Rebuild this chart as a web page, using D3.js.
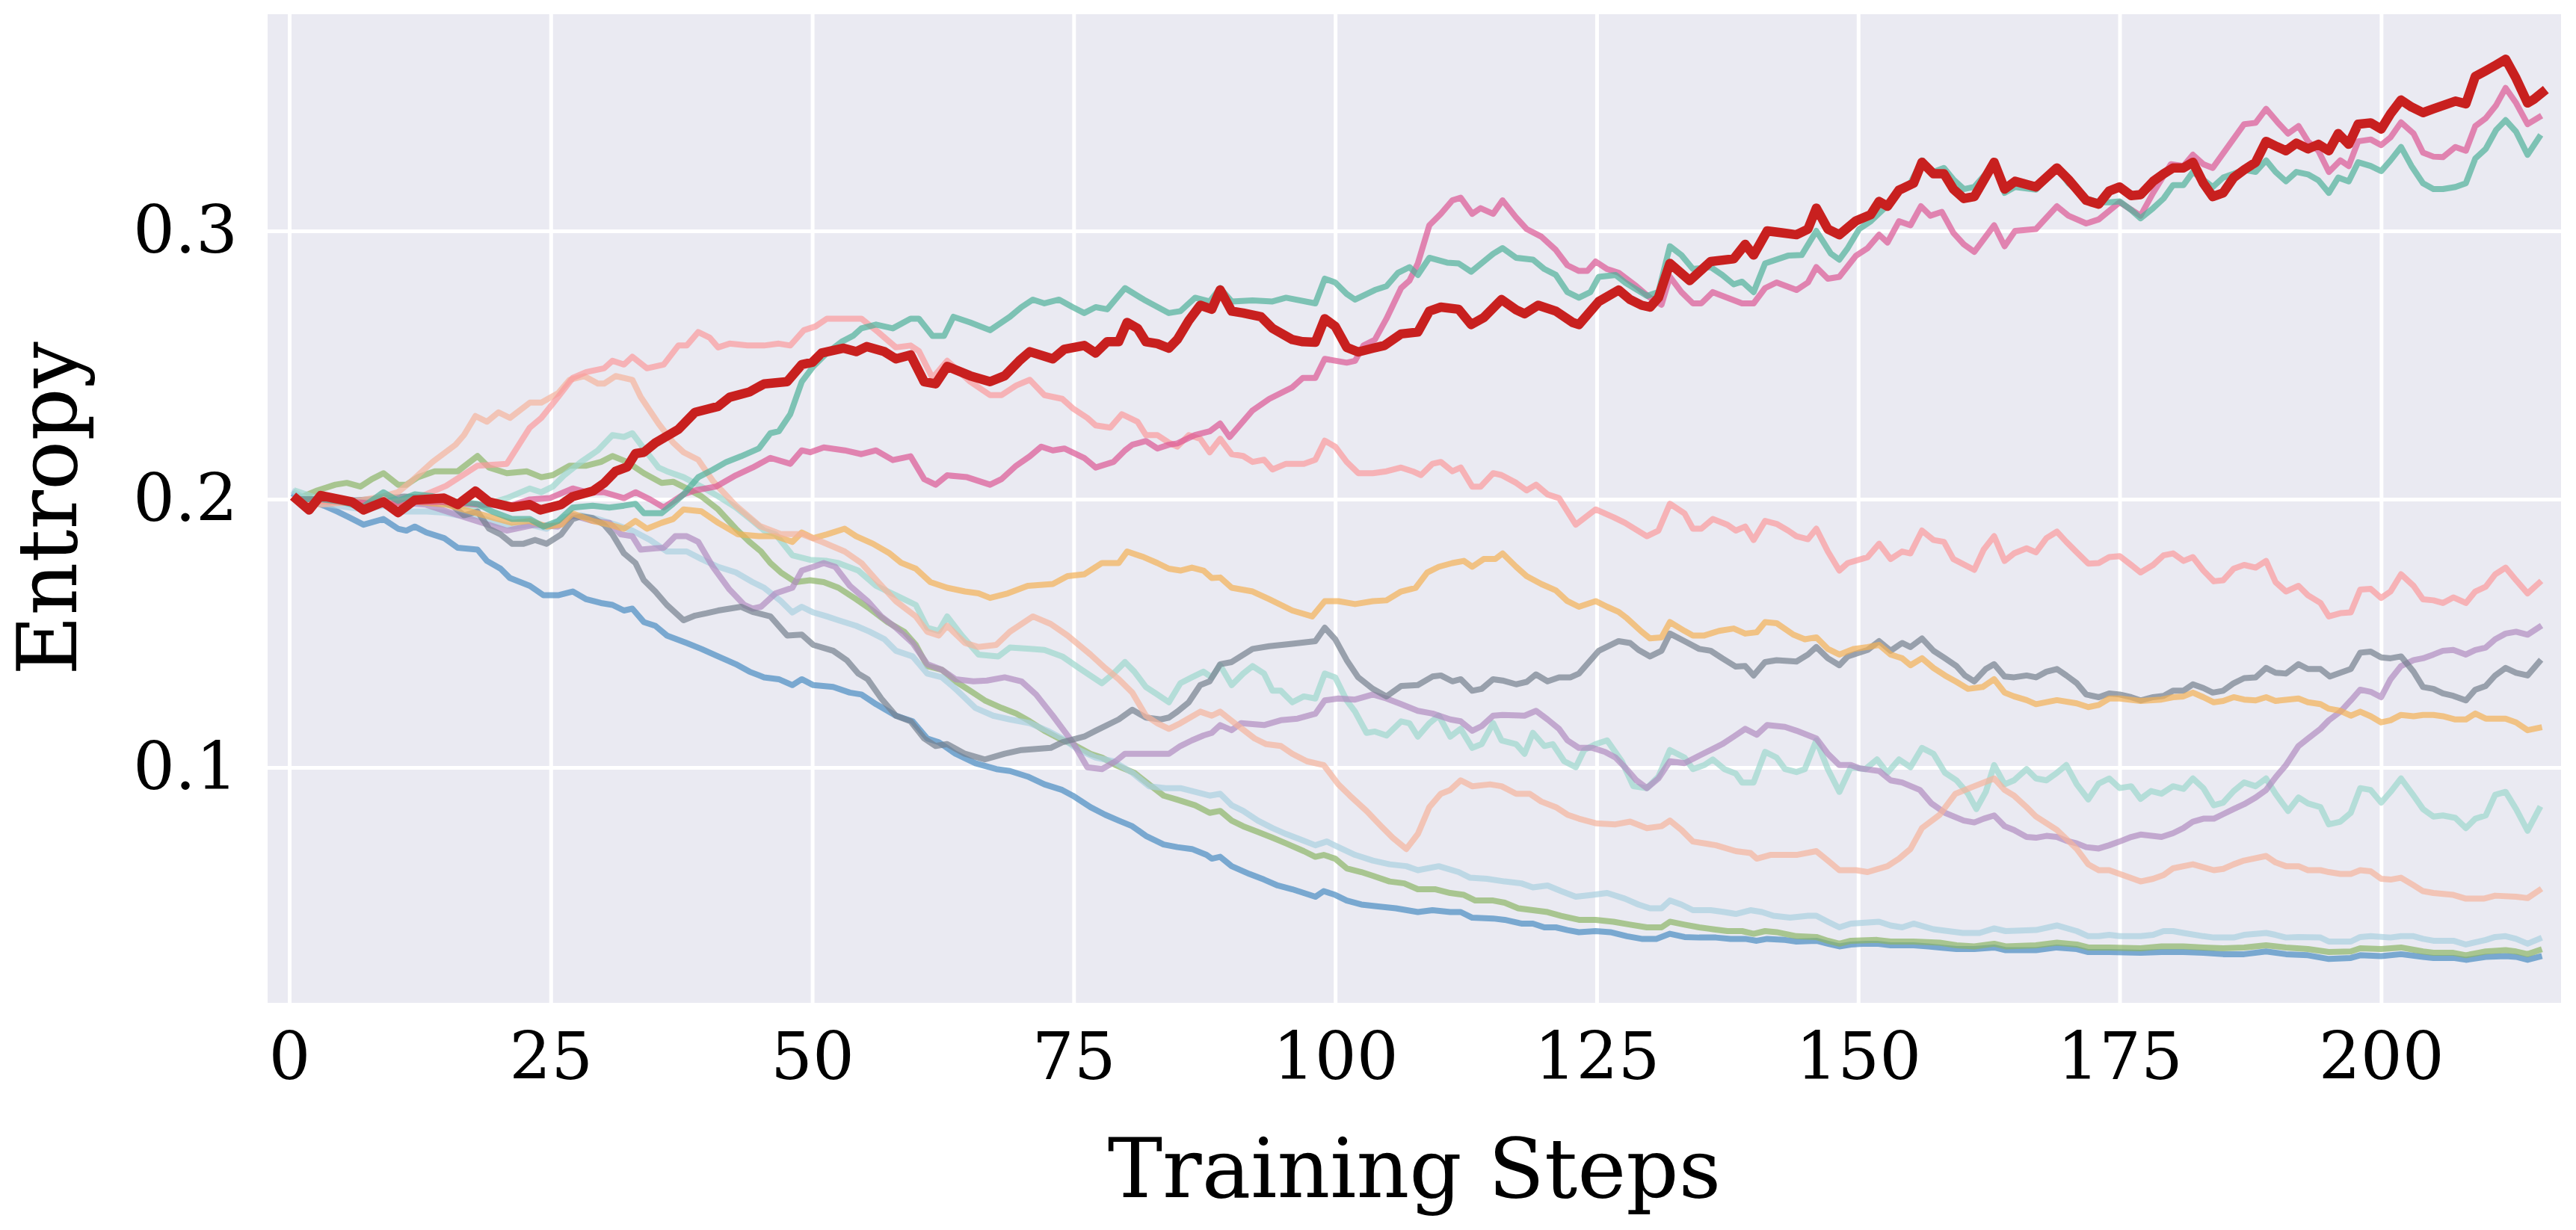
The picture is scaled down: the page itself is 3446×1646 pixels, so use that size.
<!DOCTYPE html>
<html>
<head>
<meta charset="utf-8">
<script src="https://cdn.jsdelivr.net/npm/d3@7"></script>
<style>
  html, body { margin: 0; padding: 0; background: #ffffff; }
  text { font-family: "DejaVu Serif", serif; fill: #000; }
</style>
</head>
<body>
<div id="chart"></div>
<script>
// Entropy of each run during training as [step, entropy]
var xTicks = [0, 25, 50, 75, 100, 125, 150, 175, 200];
var yTicks = [0.1, 0.2, 0.3];

var red = [[0.7,.200],[1.9,.196],[3,.2014],[6,.199],[7.1,.196],[9,.199],[10.4,.195],[12,.1997],[14.8,.2004],[16.1,.198],[17.8,.203],[19.1,.199],[21.3,.197],[23,.198],[24,.196],[26,.198],[27.1,.201],[29,.203],[30.1,.206],[31.2,.2104],[32.3,.212],[33.1,.217],[33.9,.2175],[35,.221],[37.2,.226],[38.8,.2324],[40.2,.2338],[41,.2346],[42.1,.238],[44,.24],[45.4,.243],[47.6,.2438],[49,.2502],[50,.251],[50.9,.2545],[53,.2563],[54.2,.255],[55.2,.2569],[56.9,.255],[58,.2523],[59.4,.2538],[60.7,.2438],[61.8,.243],[62.9,.2495],[65.1,.246],[67,.2438],[68.4,.246],[69.8,.2516],[70.8,.255],[73,.2523],[74.1,.2559],[76,.2573],[77.1,.2545],[78.2,.2587],[79.3,.2587],[80.1,.2659],[81.1,.2637],[81.9,.2587],[83,.258],[84.1,.2563],[84.9,.2595],[86,.2666],[87.1,.2723],[88.2,.2708],[89,.278],[90.1,.2701],[91.2,.2694],[92.9,.268],[94,.2637],[95.9,.2595],[96.9,.2587],[98.1,.2585],[99,.2673],[100,.2644],[101.1,.2566],[102.2,.2549],[103.6,.2563],[104.7,.2573],[106.3,.2616],[107.9,.2623],[109,.2701],[110.1,.2716],[111.8,.2708],[113,.2651],[114.2,.2677],[115.9,.2744],[117.3,.2706],[118.1,.2691],[119.4,.2723],[121.1,.2701],[122.7,.2659],[123.3,.2651],[125.2,.2737],[127.1,.278],[128.2,.2744],[129.3,.2723],[130.1,.2716],[130.9,.2751],[132,.2879],[133.9,.2815],[135.9,.2886],[138.1,.2896],[139.2,.295],[140,.291],[141.3,.3],[142.7,.2993],[144.1,.2986],[145.2,.3007],[146,.3085],[147.1,.3007],[148.2,.2986],[149.8,.3038],[151.2,.3061],[152,.311],[152.8,.3092],[153.9,.3152],[155.3,.3178],[156.1,.3256],[157.2,.3213],[158.2,.3213],[159.1,.3156],[160.1,.3121],[161.1,.3128],[163,.3256],[164,.3156],[165,.3185],[167,.3164],[169,.3235],[170.1,.3192],[171.8,.3114],[173,.31],[174,.3149],[175,.3164],[176.1,.3132],[177,.3135],[178.2,.3185],[179.2,.3213],[180.1,.3235],[181.1,.3235],[182,.3256],[183,.3178],[183.9,.3128],[184.9,.3142],[185.9,.3199],[186.9,.3228],[188,.3256],[189,.3334],[189.9,.3317],[190.9,.3299],[191.9,.3327],[193,.3306],[194,.3323],[195,.3299],[195.9,.3363],[196.9,.3323],[197.8,.3398],[199,.3403],[200,.338],[200.9,.3437],[201.9,.3488],[202.9,.3462],[204,.3441],[205,.3455],[207.1,.3484],[208.1,.3474],[209,.3576],[210,.3597],[211,.3619],[211.9,.364],[212.9,.3569],[214,.3477],[214.6,.3491],[215.4,.3516]];

var teal = [[0.7,.2],[3,.2],[5,.199],[7,.197],[9,.2026],[10.4,.1994],[12,.2018],[13.7,.2011],[16.1,.199],[18,.1983],[19.4,.1954],[21.3,.1926],[23,.1926],[24.3,.1898],[25.7,.1919],[27.1,.1969],[29,.1976],[30.6,.1969],[32,.1976],[33.1,.1983],[33.9,.1948],[35.6,.1948],[36.7,.1983],[37.7,.2018],[39.1,.2082],[40.5,.211],[41.8,.2139],[43.2,.216],[44.9,.2189],[46,.2246],[46.8,.2253],[47.9,.2317],[49,.2438],[50.1,.2495],[51.4,.2545],[52.8,.2587],[53.9,.2609],[54.7,.2637],[56.1,.2651],[57.7,.2637],[59.4,.2673],[60.2,.2673],[61.5,.2609],[62.6,.2609],[63.5,.268],[65.1,.2659],[67,.263],[68.9,.268],[70,.2716],[71.1,.2744],[72.2,.273],[73.6,.2744],[74.9,.2716],[76,.2694],[77.1,.2716],[78.2,.2708],[79.9,.2787],[81.7,.2744],[84.1,.2694],[85.2,.2701],[86.6,.2751],[88,.2737],[89,.2787],[90.1,.2737],[92.1,.2741],[94,.2737],[95.3,.2751],[98.1,.273],[99,.2822],[100,.2808],[101.1,.2765],[101.9,.2744],[103.8,.278],[104.9,.2794],[106,.2844],[107.1,.2865],[107.9,.2836],[109,.29],[110.7,.2882],[111.8,.2879],[113,.2848],[115.1,.2915],[116,.2936],[117.3,.29],[118.9,.2893],[120,.2858],[121.1,.2836],[122.2,.2772],[123.3,.2751],[124.4,.2772],[125.2,.2829],[126.8,.2836],[127.7,.2808],[129.8,.2758],[130.9,.2772],[132,.2943],[133.1,.291],[134.2,.2858],[135.9,.2865],[137,.2836],[138.1,.2801],[138.9,.2811],[140,.2772],[141.1,.2879],[143.3,.2908],[144.6,.291],[146,.3],[147.4,.2915],[148.2,.2893],[149,.2936],[150.1,.3007],[151.2,.3036],[152.8,.3095],[153.9,.315],[155,.3178],[156.1,.3263],[157.2,.322],[158.2,.3235],[159.1,.3192],[160.1,.3156],[161.1,.3164],[163,.3249],[164,.3142],[165,.3164],[167,.3154],[169,.3235],[170.1,.3178],[171.8,.3121],[173,.3107],[174,.3107],[175,.311],[176.1,.3078],[177,.3047],[178.2,.3085],[179.2,.3121],[180.1,.3171],[181.1,.3171],[182,.322],[183.2,.3185],[183.9,.3164],[184.9,.3199],[185.9,.3213],[186.9,.3228],[188,.322],[189,.3263],[189.9,.322],[190.9,.3185],[191.9,.322],[193,.3211],[194,.3189],[195,.3142],[195.9,.3199],[196.9,.3185],[197.8,.3256],[199,.3242],[200,.3223],[200.9,.3263],[201.9,.3313],[202.9,.3242],[204,.3178],[205,.3156],[205.9,.3156],[207.1,.3164],[208.1,.3178],[209,.327],[210,.3306],[211,.3377],[211.9,.3413],[212.9,.337],[214,.3284],[215.1,.3349]];

var pink = [[0.7,.2],[3,.2],[6,.199],[9,.198],[12,.199],[15,.199],[18,.198],[21.3,.1978],[23,.1999],[24.9,.2004],[27.1,.204],[28.4,.2026],[30.1,.2026],[32,.2004],[33.1,.2026],[34.5,.1999],[35.8,.1969],[37.7,.2018],[38.8,.2033],[40.8,.2047],[42.7,.2089],[44.3,.2118],[46,.2154],[47.9,.2132],[49,.2182],[49.8,.2175],[51.1,.2193],[53.1,.2182],[54.7,.2168],[56.1,.2182],[57.7,.2146],[59.4,.216],[60.7,.2075],[61.8,.2054],[62.9,.2089],[64.8,.2082],[67,.2054],[68.1,.2075],[69.5,.2125],[70.8,.216],[71.9,.2196],[73,.2182],[74.1,.2189],[76,.2154],[77.1,.2118],[78.8,.2139],[79.9,.2182],[80.6,.2203],[81.9,.2217],[83,.2189],[84.1,.2203],[84.9,.2208],[86.6,.2239],[88,.2253],[89,.2282],[89.9,.2232],[92.1,.2331],[93.7,.2374],[95.9,.2417],[96.9,.2452],[98.1,.2452],[99,.2523],[101.1,.2509],[101.9,.2516],[102.7,.2573],[103.8,.2595],[104.9,.2673],[106.3,.2787],[107.1,.2815],[107.9,.2879],[109,.3021],[110.1,.3064],[111.2,.3114],[112,.3124],[113.1,.3064],[113.9,.3085],[115.1,.3064],[116,.3114],[117.3,.305],[118.3,.3007],[119.7,.2979],[121.1,.2929],[122.2,.2872],[123.3,.2851],[124.1,.2851],[124.9,.2886],[126,.2858],[127.1,.2844],[128.8,.2794],[130.1,.2751],[131.2,.2725],[132,.2829],[133.1,.2772],[134.2,.273],[135,.273],[136.1,.2772],[137.5,.2751],[138.9,.273],[140,.273],[141.1,.2787],[142.2,.2808],[144.1,.278],[145.2,.2808],[146,.2865],[147.1,.2822],[148.2,.2829],[149.8,.2908],[150.9,.2936],[152,.2986],[152.8,.2957],[153.9,.3036],[155,.3021],[156,.3092],[156.9,.3057],[158,.3071],[159.1,.2993],[160.1,.295],[161.1,.2922],[163,.3021],[164,.2943],[165,.3],[167,.3007],[169,.3092],[170.1,.3057],[171.8,.3028],[173,.3043],[175,.3107],[177,.3057],[178.2,.3142],[179.9,.3249],[181.1,.3242],[182,.3284],[183,.3249],[183.9,.3235],[186.9,.3398],[188,.3403],[189,.3455],[190.1,.3405],[191.1,.3363],[192.1,.3391],[193,.3334],[194,.3299],[195,.322],[196.1,.3263],[196.9,.3242],[197.8,.3334],[199,.3341],[200,.332],[200.9,.3349],[201.9,.3405],[203.1,.3363],[204,.3292],[205,.3277],[205.9,.3275],[207.1,.3313],[208.1,.3299],[209,.3391],[210,.342],[211,.3469],[211.9,.3533],[212.9,.3477],[214,.3398],[215.1,.3424]];

var lightPink = [[0.7,.2],[4,.199],[8,.198],[12,.2],[15,.205],[18,.2125],[20.8,.2132],[23,.2267],[24.1,.2303],[25.7,.2381],[27.1,.2452],[28.4,.2474],[30.1,.2488],[30.9,.2516],[32,.2502],[32.8,.2531],[34.2,.2488],[35.8,.2502],[37.2,.2573],[38,.2573],[39.1,.2623],[40.2,.2602],[41,.2566],[42.1,.258],[43.8,.2573],[45.4,.2573],[46.8,.258],[47.9,.2573],[49.2,.263],[50.3,.2644],[51.4,.2673],[53.1,.2673],[54.7,.2673],[56.3,.2623],[58,.2566],[59.4,.2573],[60.2,.2552],[61.5,.2452],[62.9,.2516],[65.1,.2438],[67,.2388],[68.1,.2388],[69.5,.2424],[70.8,.2445],[72.2,.2388],[73.9,.2374],[74.9,.2339],[76.3,.2303],[77.1,.2275],[78.5,.2267],[79.6,.2317],[81.1,.2289],[81.9,.2239],[83,.2239],[84.1,.2211],[84.9,.2196],[86,.2239],[87.1,.2225],[88,.2175],[89,.2225],[90.1,.2168],[91.2,.2161],[92.1,.2139],[93.2,.2147],[94,.2111],[95.3,.2132],[97,.2132],[98.1,.2147],[99,.2218],[100,.2196],[101.1,.2139],[102.2,.2097],[103.6,.2097],[104.9,.2104],[106.3,.2118],[107.4,.2104],[108.2,.209],[109.3,.2132],[110.1,.2139],[111.2,.2104],[112,.2118],[113.1,.2047],[113.9,.2047],[115.1,.2097],[115.9,.209],[117.3,.2061],[118.3,.2033],[119.2,.2054],[120.3,.2018],[121.4,.2004],[123,.1905],[124.9,.1962],[126.6,.1933],[127.7,.1912],[129.8,.1862],[130.9,.1883],[132,.1983],[133.4,.1947],[134.2,.189],[135,.189],[136.1,.1926],[137.5,.1905],[138.3,.1883],[139.2,.1898],[140,.1848],[141.1,.1919],[142.2,.1908],[143.3,.1883],[144.1,.1862],[145.2,.1851],[146,.189],[147.1,.1805],[148.2,.1734],[149,.1762],[150.9,.1784],[152,.1834],[153.1,.1777],[154.2,.1805],[155,.1798],[156.1,.1883],[157.2,.1848],[158.2,.1841],[159.1,.1777],[161.1,.1737],[162,.1812],[163,.1862],[164,.177],[164.9,.1798],[166.1,.1817],[167,.1802],[168,.1855],[169,.1879],[169.9,.1841],[170.9,.1802],[172,.176],[173,.1762],[174,.1784],[175,.1788],[176.1,.1755],[177,.1727],[178.2,.1755],[179.2,.1791],[180.1,.1798],[181.1,.177],[182,.1784],[183,.1734],[184,.1694],[184.9,.1698],[185.9,.1741],[186.9,.1755],[188,.1745],[189,.177],[189.9,.1691],[190.9,.1656],[192.1,.1677],[193,.1642],[194.2,.1613],[195,.1563],[196.1,.1575],[197.1,.1578],[198,.1663],[199,.1666],[200,.1632],[200.9,.1656],[201.9,.172],[203.1,.1677],[204,.1627],[205,.1623],[205.9,.1613],[206.9,.1634],[208.1,.1613],[209,.1656],[210,.1674],[210.9,.172],[211.9,.1745],[212.9,.1698],[214,.1649],[215.1,.1688]];

var peach = [[0.7,.2],[3,.198],[6,.199],[9,.2011],[10.4,.2026],[11.5,.2061],[13.7,.2139],[15.9,.2203],[16.7,.2239],[17.8,.231],[18.9,.2289],[20,.2324],[21.1,.2303],[23,.236],[24.1,.236],[25.7,.2395],[26.8,.2445],[28.2,.2459],[29.5,.2431],[30.1,.2431],[31.2,.2459],[32.8,.2445],[33.6,.2381],[35.3,.2282],[36.7,.2211],[37.7,.2175],[39.1,.2147],[40.5,.2068],[41,.2047],[42.7,.1976],[45,.19],[47,.187],[49,.187],[51,.184],[53.1,.1805],[54.7,.1762],[56.3,.1691],[58,.162],[59.9,.1563],[61,.1506],[62.1,.1492],[62.9,.1528],[64.6,.1464],[65.9,.1449],[67.6,.1457],[68.9,.1506],[71.1,.1563],[72.8,.1535],[74.4,.1492],[76.6,.1421],[78,.1371],[79.3,.1329],[80.6,.1279],[81.9,.1193],[83,.1165],[84.1,.1144],[85.2,.1165],[87.1,.1208],[88.2,.1193],[89,.1208],[90.4,.1165],[92.3,.1108],[93.4,.1087],[94.8,.108],[95.9,.1051],[97.3,.1023],[98.9,.1009],[100.3,.0937],[101.4,.0895],[103,.0838],[104.4,.0781],[105.5,.0738],[106.8,.0696],[107.9,.0752],[109,.0852],[110.1,.0902],[111,.0916],[112,.0952],[113.1,.093],[114.8,.0937],[115.9,.093],[117.3,.0902],[118.6,.0902],[119.7,.0873],[121.1,.0852],[122.2,.0824],[123.3,.0809],[124.9,.0792],[126.8,.0788],[128.2,.0798],[129.8,.0774],[131.2,.0781],[132,.0802],[133.1,.0767],[134.2,.0724],[136.4,.071],[138.3,.0688],[139.7,.0681],[140.3,.066],[141.6,.0674],[144.1,.0674],[146,.0688],[147.1,.0653],[148.2,.0617],[149.8,.0617],[150.9,.061],[152.8,.0632],[153.9,.066],[155,.0696],[156.1,.0774],[157.8,.0824],[159.3,.0902],[161.1,.093],[163,.0959],[164,.0916],[164.9,.0895],[166.1,.0852],[167,.0817],[169,.0767],[170.9,.0696],[172,.0639],[173,.0617],[174,.0617],[175,.0603],[177,.0575],[178.2,.0585],[179.2,.0599],[180.1,.0624],[182,.0639],[184,.0617],[184.9,.0622],[185.9,.0639],[186.9,.0653],[189,.067],[189.9,.0646],[190.9,.0632],[192.1,.0632],[193,.0617],[194.2,.0617],[195,.061],[196.1,.0603],[197.1,.0603],[198,.0617],[199,.0613],[200,.0585],[200.9,.0582],[201.9,.0589],[203.1,.0561],[204,.0539],[205,.0532],[206.9,.0525],[208.1,.0511],[209.8,.0511],[210.9,.0522],[212.9,.0518],[214,.0513],[215.1,.0542]];

var orange = [[0.7,.2],[4,.199],[8,.198],[12,.199],[15,.198],[18,.1947],[21.3,.1912],[23,.1919],[24.6,.1898],[26,.1905],[27.1,.1947],[29,.1919],[30.6,.1905],[32,.189],[33.1,.1919],[34.2,.189],[35.6,.1912],[36.7,.1926],[37.7,.1962],[39.4,.1955],[41,.1912],[42.9,.1869],[44.9,.1862],[46.5,.1862],[48.1,.1841],[49,.1876],[50.1,.1855],[51.4,.1869],[53.1,.189],[54.2,.1862],[55.8,.1834],[57.4,.1798],[58.5,.1763],[59.9,.1741],[61.3,.1691],[62.9,.167],[64.6,.1656],[65.9,.1649],[67,.1632],[68.7,.1649],[70.6,.1677],[73,.1684],[74.4,.1713],[76,.172],[77.7,.1762],[79.3,.1762],[80.1,.1805],[81.7,.1784],[83,.1762],[84.1,.1741],[85.2,.1734],[86.3,.1745],[87.4,.1734],[88.2,.1706],[89,.1708],[90.1,.167],[92.1,.1656],[93.7,.1627],[95.9,.1585],[97.8,.1563],[99,.162],[100.3,.162],[101.9,.1609],[103.6,.162],[104.9,.1623],[106.3,.1656],[107.7,.167],[108.8,.1727],[109.9,.1748],[111.2,.1762],[112.3,.177],[113.1,.1748],[114.2,.1777],[115.3,.1777],[116,.1798],[117.3,.1748],[118.3,.1713],[119.7,.1684],[121.1,.166],[122.2,.162],[123.3,.1599],[124.9,.162],[126,.1599],[127.1,.158],[127.9,.1556],[129.3,.1506],[130.1,.1481],[131.2,.1485],[132,.1542],[133.4,.1509],[134.2,.1492],[135.3,.1492],[136.7,.1509],[138.1,.1518],[139.2,.1499],[140.3,.1504],[141.1,.1542],[142.2,.1538],[143.8,.1495],[144.9,.1478],[146,.1485],[147.1,.1442],[148.2,.1421],[149.6,.1442],[150.9,.1449],[152,.1457],[153.1,.1421],[154.2,.1407],[155,.1381],[156.1,.1407],[157.2,.1371],[158.3,.1343],[159.4,.1319],[160.5,.1293],[161.9,.13],[163,.1329],[164,.1279],[164.9,.1265],[166.1,.1251],[167,.1236],[169,.1251],[170.9,.1239],[172,.1225],[173,.1233],[174,.1257],[175,.1257],[177,.1248],[179,.1253],[180.1,.1262],[181.1,.1265],[182,.1279],[183,.1262],[184,.1243],[184.9,.1248],[185.9,.1262],[186.9,.1253],[188,.125],[189,.1262],[189.9,.1248],[192.1,.1257],[193,.1243],[194.2,.1236],[195,.1219],[196.1,.1211],[197.1,.1193],[198,.1208],[199,.1191],[200,.1168],[200.9,.1176],[201.9,.1196],[203.1,.1191],[204,.1196],[205,.1196],[205.9,.1191],[207.1,.1179],[208.1,.1179],[209,.1201],[210,.1182],[211.9,.1182],[212.9,.1168],[214,.1139],[215.1,.1148]];

var gray = [[0.7,.2],[4,.199],[8,.2],[11,.201],[13.7,.2004],[15.6,.1976],[16.7,.194],[18,.1954],[19.1,.189],[20.2,.1869],[21.3,.1834],[22.4,.1834],[23.5,.1848],[24.6,.1834],[26,.1869],[27.1,.1926],[27.9,.1936],[29,.193],[30.1,.1905],[30.9,.1869],[32,.1798],[33.1,.1762],[33.9,.1698],[35,.1656],[36.1,.1606],[37.7,.1549],[38.8,.1566],[39.9,.1575],[41,.1585],[43.2,.1599],[44.3,.158],[46,.1563],[47.6,.1492],[49,.1495],[50.1,.1457],[52,.1435],[53.3,.14],[54.4,.135],[55.3,.1329],[56.6,.1257],[58,.1193],[59.4,.1172],[60.7,.1108],[61.8,.108],[62.9,.1087],[64.6,.1051],[66.5,.103],[68.4,.1051],[70,.1065],[72.8,.1073],[73.9,.1094],[76,.1115],[77.1,.1137],[79.3,.1179],[80.6,.1215],[81.9,.1186],[83.3,.1179],[84.1,.1186],[84.9,.1208],[86,.1243],[87.1,.1307],[88,.1321],[89,.1385],[90.1,.1393],[92.1,.1442],[93.7,.1452],[95.9,.1461],[98.1,.1471],[99,.1521],[100,.1478],[101.1,.14],[102.2,.1336],[103.6,.1293],[104.9,.1265],[106.3,.1304],[107.9,.1307],[109.3,.1339],[110.1,.1343],[111.2,.1321],[112,.1329],[113.1,.1286],[114,.1293],[115.1,.1329],[116,.1324],[117.3,.131],[118.3,.1319],[119.2,.1347],[120.3,.1321],[121.4,.1336],[122.5,.1336],[123.3,.135],[125.2,.1435],[127.1,.1471],[128.2,.1464],[129,.1438],[130.1,.1414],[131.2,.1435],[132,.1499],[133.4,.1471],[134.8,.1442],[135.9,.1435],[137,.1407],[138.3,.1376],[139.2,.1378],[140,.1343],[141.1,.1393],[142.2,.14],[144.1,.1395],[145.2,.1421],[146,.1449],[147.1,.1407],[148.2,.1381],[149,.1414],[150.9,.1438],[152,.1471],[153.1,.1435],[154.2,.1464],[155,.1449],[156.1,.1481],[157.2,.1435],[158.3,.1407],[159.4,.1378],[160.2,.1343],[161.1,.1321],[162.2,.1367],[163,.1385],[164,.1339],[164.9,.1336],[166.1,.1343],[167,.1336],[168,.1357],[169,.1367],[169.9,.1343],[170.9,.1314],[171.8,.1272],[173,.1262],[174,.1276],[175,.1272],[176.1,.1262],[177,.125],[178.2,.1262],[179.2,.1267],[180.1,.1286],[181.1,.1286],[182,.131],[183,.1296],[183.9,.1279],[184.9,.1286],[185.9,.1314],[186.9,.1333],[188,.1336],[189,.1371],[189.9,.1353],[190.9,.135],[192.1,.1385],[193,.1367],[194.2,.1367],[195.1,.1339],[196.1,.1353],[197.1,.1367],[198,.1428],[199,.1432],[200,.141],[200.9,.1407],[201.9,.1414],[203.1,.1357],[204,.13],[205,.1293],[205.9,.1276],[206.9,.1267],[208.1,.125],[209,.129],[210,.1304],[210.9,.1343],[211.9,.1371],[212.9,.1353],[214,.1343],[215.1,.1393]];

var purple = [[0.7,.2],[5,.199],[9,.199],[13,.198],[17,.193],[20.8,.1883],[23.5,.1905],[25.7,.1898],[27.1,.194],[29,.1919],[30.6,.1912],[31.7,.1869],[32.8,.1862],[33.6,.1812],[35,.1817],[35.8,.1819],[36.9,.1862],[38,.1862],[39.1,.1841],[40.5,.1748],[42.1,.1663],[43.5,.1606],[44.3,.1592],[45.1,.1599],[46.5,.1649],[48.1,.167],[49,.1734],[50.1,.1748],[51.1,.1762],[52.2,.1748],[53.6,.1677],[55.3,.162],[56.6,.1563],[58,.1521],[59.6,.1464],[61,.1385],[62.4,.1364],[63.7,.1329],[65.4,.1321],[66.7,.1324],[68.4,.1336],[70,.1321],[71.4,.1272],[73,.1193],[74.9,.1094],[76.3,.1001],[77.7,.0994],[79,.1023],[79.9,.1051],[81.7,.1051],[84.1,.1051],[85.2,.108],[86.3,.1101],[87.4,.1119],[88.2,.1129],[89,.1158],[90.1,.1139],[91,.1165],[93.2,.1158],[94.8,.1176],[96.4,.1182],[98.1,.12],[99,.125],[100.3,.1257],[101.9,.1253],[103.6,.1272],[104.9,.1257],[106.3,.1236],[107.9,.1211],[109.3,.1201],[111,.1179],[112,.1172],[113.1,.1137],[114,.1154],[115.1,.1193],[116,.1196],[118.1,.1193],[119.2,.1211],[120.3,.1179],[121.4,.1144],[122.2,.1101],[123.3,.1073],[124.6,.1073],[125.8,.1058],[126.8,.1037],[127.7,.1001],[128.8,.0952],[129.8,.0923],[130.9,.0959],[132,.1023],[133.4,.1016],[134.8,.1044],[135.9,.1065],[137,.1087],[138.1,.1115],[139.2,.1144],[140.3,.1122],[141.3,.1158],[143,.1151],[144.1,.1137],[146,.1108],[147.1,.1051],[148.2,.1009],[149.3,.1009],[150.1,.0997],[152,.0987],[153.1,.0952],[154.2,.0944],[155.9,.0916],[157,.0866],[158.3,.0831],[160.1,.0802],[161.1,.0795],[162,.0809],[163,.0821],[164,.0781],[164.9,.0767],[166.1,.0741],[167,.0738],[168,.0745],[169,.0741],[169.9,.0727],[170.9,.0717],[171.8,.0703],[173,.0698],[174,.071],[175,.0724],[176.1,.0741],[177,.075],[179,.0741],[180.1,.0755],[181.1,.0774],[182,.0798],[183,.0809],[184,.0809],[184.9,.0826],[185.9,.0845],[186.9,.0863],[188,.0888],[189,.0916],[189.9,.0963],[190.9,.1009],[192.1,.108],[193,.1108],[194.2,.1144],[195,.1176],[196.1,.1208],[197.1,.125],[198,.129],[199,.1282],[200,.1262],[200.9,.1329],[201.9,.1378],[203.1,.14],[204,.1407],[205,.1421],[205.9,.1435],[206.9,.1438],[208.1,.1421],[209,.1438],[210,.1447],[210.9,.1478],[211.9,.1499],[212.9,.1506],[214,.1495],[215.1,.1523]];

var mint = [[0.7,.203],[3,.2],[7,.199],[11,.199],[15,.198],[18,.197],[20.8,.2004],[23,.204],[24.1,.2026],[25.2,.2047],[26.3,.209],[27.9,.2139],[29.5,.2182],[30.9,.2239],[32,.2232],[32.8,.2246],[33.9,.2189],[35.3,.2118],[36.1,.2104],[37.7,.2082],[39.4,.2047],[41,.2011],[42.7,.1969],[44.3,.1919],[45.4,.1883],[46.5,.1869],[48.1,.1791],[49.8,.1774],[51.4,.177],[52.5,.1762],[54.4,.1734],[56.1,.1677],[58,.1642],[59.9,.1606],[61,.1521],[62.1,.1509],[62.9,.1563],[64.3,.1492],[65.9,.1421],[67.8,.1414],[68.9,.1447],[70.8,.1442],[72.2,.1438],[73.9,.1414],[75.5,.1371],[77.7,.1314],[78.8,.135],[79.9,.1393],[80.8,.1357],[81.9,.13],[83,.1272],[84.1,.1243],[85.2,.1314],[86.3,.1336],[87.4,.1357],[88.2,.1336],[89,.1381],[90.1,.1307],[91.2,.135],[92.1,.1378],[93.2,.135],[94,.1286],[94.8,.1286],[95.9,.1243],[97,.1265],[98.1,.1257],[99,.135],[100,.1336],[101.1,.125],[101.9,.1208],[103,.1129],[103.8,.1134],[104.9,.1119],[106.3,.1172],[107.1,.1165],[107.9,.1115],[109,.1165],[109.9,.1193],[111,.1115],[112,.1144],[113.1,.1073],[114,.1087],[115.1,.1165],[115.9,.1101],[117.3,.1087],[118.1,.1051],[118.9,.1129],[120,.108],[120.8,.1087],[121.9,.1023],[123,.1001],[123.8,.1065],[124.9,.1087],[126,.1101],[127.4,.1023],[128.5,.093],[129.8,.0923],[130.9,.0966],[132,.1065],[133.4,.1037],[134.2,.0994],[135.3,.1009],[136.1,.103],[137.2,.0994],[138.3,.0977],[138.9,.0944],[140,.0944],[141.1,.1058],[142.2,.1037],[143,.0994],[144.1,.0983],[144.9,.0994],[146,.1101],[147.1,.0994],[148.2,.0909],[149.3,.1001],[150.7,.0994],[151.8,.103],[152.8,.098],[153.9,.103],[155,.1001],[156.1,.1073],[157.2,.1051],[158.3,.098],[159.4,.0952],[160.5,.0902],[161.3,.0845],[162.2,.0909],[163,.1009],[164,.0937],[164.9,.0952],[166.1,.0994],[167,.0959],[168,.0952],[169,.098],[169.9,.1009],[170.9,.0937],[172,.0881],[173,.094],[174,.0959],[175,.0923],[176.1,.093],[177,.0883],[178,.0912],[179,.0902],[180.1,.093],[181.1,.092],[182,.0959],[183,.0923],[184,.0859],[184.9,.0869],[185.9,.0912],[186.9,.0944],[188,.093],[189,.0959],[189.9,.0902],[191.1,.0838],[192.1,.0888],[193,.0866],[194.2,.0852],[195,.0788],[196.1,.0798],[197.1,.0831],[198,.0923],[199,.0916],[200,.0869],[200.9,.0909],[201.9,.0959],[203.1,.0895],[204,.0845],[205,.0817],[205.9,.0821],[207.1,.0812],[208.1,.0774],[209,.0809],[210,.0821],[210.9,.0898],[211.9,.0909],[212.9,.0845],[214,.0764],[215.1,.0845]];

var lightBlue = [[0.5,.2026],[2.2,.199],[4.4,.1976],[7.1,.1962],[9,.1976],[10.9,.1954],[13.1,.1954],[14.8,.195],[16.1,.194],[18,.1936],[19.7,.1912],[21.3,.1898],[23,.1905],[24.6,.189],[26.3,.1933],[27.9,.194],[29.5,.1926],[31.2,.1905],[32.8,.1883],[34.5,.1848],[36.1,.1805],[38,.1805],[39.4,.1777],[41,.1748],[42.7,.1727],[44.3,.1691],[45.4,.167],[47,.162],[48.1,.1578],[49,.1599],[50.1,.1578],[51.4,.1563],[52.5,.1549],[54.2,.1528],[55.5,.1506],[56.9,.1478],[58,.1435],[59.6,.1414],[61,.135],[62.4,.1336],[63.7,.1293],[65.6,.1222],[67.3,.1193],[68.9,.1179],[70.8,.1165],[72.5,.1137],[73.9,.1108],[75.5,.1065],[77.1,.1037],[78.8,.1023],[80.6,.098],[82.2,.093],[83.8,.0923],[85.2,.0923],[86.6,.0909],[88,.0895],[89,.0902],[90.1,.0859],[91.2,.0838],[92.6,.0802],[94,.0774],[95.3,.0752],[96.7,.0731],[98.1,.071],[99.2,.0724],[100.3,.0703],[101.9,.0674],[103.6,.0653],[105.2,.0639],[106.8,.0632],[107.9,.0617],[109.9,.0632],[111.8,.061],[112.9,.0589],[114.5,.0585],[116.2,.0575],[117.8,.0568],[118.9,.0553],[120.3,.056],[121.6,.0539],[123,.0518],[124.6,.0525],[126,.0532],[127.7,.0511],[129,.0489],[130.1,.0475],[131.2,.0475],[132,.0504],[133.1,.0489],[134.2,.0468],[135.9,.0468],[137.2,.0461],[138.3,.0454],[139.7,.0468],[140.8,.0461],[141.9,.0447],[143.5,.044],[145.2,.0447],[146,.0447],[147.1,.0425],[148.2,.0404],[149.3,.0418],[152,.0425],[153.1,.0411],[154.2,.0404],[155.3,.0418],[157.2,.0397],[158.6,.039],[160,.0383],[161.6,.0383],[163,.04],[164.1,.039],[167,.0394],[169,.0411],[170.9,.039],[172,.0371],[173,.0371],[174,.0376],[175,.0371],[177,.0371],[178.2,.0376],[179.2,.039],[180.1,.039],[181.1,.0383],[183,.0371],[184,.0366],[185.9,.0366],[186.9,.0376],[189,.0383],[189.9,.0376],[190.9,.0366],[192.1,.0368],[194.2,.0366],[195,.0351],[197.1,.0351],[198,.0368],[199,.0371],[200.9,.0366],[201.9,.0371],[203.1,.0371],[204,.0361],[205,.0354],[206.9,.0354],[208.1,.034],[210,.0357],[210.9,.0368],[211.9,.0371],[212.9,.0361],[214,.0343],[215.1,.0361]];

var green = [[0.7,.2],[2.7,.2033],[4.4,.2054],[5.5,.2061],[6.8,.2047],[7.9,.2075],[9,.2097],[10.4,.2054],[11.2,.2054],[12.3,.2082],[13.9,.2104],[16.1,.2104],[18,.2161],[19.1,.2118],[20.8,.2097],[22.7,.2104],[24.1,.2082],[25.2,.209],[26.8,.2125],[28.4,.2125],[29.8,.2139],[30.9,.2161],[32.3,.2139],[33.9,.2097],[35.6,.2061],[36.7,.2065],[38,.204],[39.4,.2011],[41,.1962],[42.7,.189],[44,.1841],[45.1,.1805],[46,.1762],[47,.1727],[48.4,.1691],[49.8,.1698],[51.1,.1691],[52.5,.167],[54.2,.1627],[55.5,.1592],[57.2,.1542],[58.8,.1506],[59.9,.1457],[61,.1378],[62.4,.1364],[63.7,.1321],[65.1,.1286],[66.5,.125],[68.1,.1222],[69.5,.1201],[70.8,.1172],[72.2,.1137],[73.6,.1108],[74.9,.1087],[76.6,.1051],[77.7,.1037],[79,.1009],[80.8,.098],[82.2,.0937],[83.6,.0895],[84.9,.088],[86.6,.0859],[88,.0831],[89,.0838],[90.1,.0802],[91.2,.0781],[92.6,.076],[94,.0738],[95.3,.0717],[97,.0688],[98.1,.0667],[98.9,.0674],[100,.066],[101.1,.0624],[102.5,.061],[103.6,.0596],[105.2,.0575],[106.6,.0568],[107.9,.0546],[109.6,.0546],[111,.0532],[112.3,.0525],[113.4,.0504],[115.1,.0504],[116.2,.0496],[117.5,.0475],[118.9,.0468],[120.3,.0461],[121.6,.0447],[123.3,.0432],[124.9,.0432],[126.6,.0425],[128.2,.0414],[129.8,.0404],[131.2,.0404],[132,.0425],[133.4,.0414],[134.8,.0404],[136.1,.0397],[137.5,.039],[138.9,.039],[140,.038],[141.1,.039],[142.2,.0386],[144.1,.0371],[146,.0368],[147.1,.0354],[148.2,.0343],[149.3,.0354],[151.8,.0357],[153.1,.0351],[155.3,.0351],[157.8,.0347],[159.4,.0337],[161.1,.0333],[163,.0343],[164.1,.0333],[167,.0337],[169,.0347],[170.9,.034],[172,.0329],[174,.0329],[177,.0326],[179,.0333],[181.1,.0333],[183,.0329],[184.9,.0326],[186.9,.0329],[189,.0337],[190.9,.0329],[193,.0323],[195,.0312],[197.1,.0314],[198,.0326],[200,.0323],[201.9,.0329],[204,.0314],[205,.0309],[206.9,.0309],[208.1,.03],[210,.0314],[211.9,.0319],[212.9,.0314],[214,.0304],[215.1,.0319]];

var blue = [[0.5,.2018],[1.9,.1997],[3.3,.1976],[4.6,.1954],[5.7,.1933],[7.1,.1905],[9,.1926],[10.4,.189],[11.2,.1883],[12,.1898],[13.1,.1876],[14.8,.1855],[16.1,.1819],[18,.1812],[18.9,.177],[20.2,.1741],[21.1,.1706],[23,.1677],[24.3,.1642],[25.7,.1642],[27.1,.1656],[28.4,.1627],[29.8,.1613],[30.9,.1606],[32,.1585],[32.8,.1592],[33.9,.1542],[35,.1528],[36.1,.1492],[38,.1464],[39.4,.1442],[41,.1414],[42.7,.1385],[44,.1357],[45.4,.1336],[46.8,.1329],[48.1,.1307],[49,.1329],[50.1,.1307],[52,.13],[53.6,.1279],[54.7,.1272],[56.1,.1236],[58,.1193],[59.6,.1172],[61,.1108],[62.1,.1094],[63.7,.1051],[65.6,.1016],[67.6,.0994],[68.9,.0987],[70.6,.0966],[72.2,.0937],[73.9,.0916],[74.9,.0895],[76.6,.0852],[78,.0824],[79.3,.0802],[80.6,.0781],[81.9,.0745],[83.6,.0713],[84.9,.0703],[86.3,.0696],[87.7,.0674],[88.2,.066],[89,.0667],[90.1,.0632],[91.8,.0603],[93.2,.0582],[94.5,.056],[95.9,.0546],[97,.0532],[98.1,.0518],[98.9,.0539],[100,.0525],[101.1,.0504],[102.5,.0489],[104.1,.0482],[105.8,.0475],[107.9,.0461],[109.3,.0468],[111,.0461],[112,.0461],[113.1,.044],[115.1,.0437],[116.2,.0432],[117.8,.0418],[118.9,.0418],[120,.0404],[121.1,.0404],[122.2,.0394],[123.3,.0386],[124.9,.039],[126.3,.0386],[127.9,.0371],[129.3,.0361],[130.7,.0361],[132,.038],[133.4,.0368],[134.8,.0366],[136.4,.0366],[137.8,.0361],[139.2,.0361],[140.3,.0354],[141.3,.0361],[143,.0357],[144.1,.0351],[146,.0354],[147.1,.0343],[148.2,.0333],[149.3,.034],[150.7,.0343],[151.8,.0343],[153.1,.0337],[155.3,.0337],[156.7,.0333],[157.8,.0329],[159.4,.0323],[161.1,.0323],[163,.0329],[164.1,.0319],[167,.0319],[169,.0329],[170.9,.0323],[172,.0312],[174,.0312],[177,.0309],[179,.0312],[181.1,.0312],[183,.0309],[184.9,.0304],[186.9,.0304],[189,.0314],[190.9,.0304],[193,.03],[195,.0286],[197.1,.029],[198,.03],[200,.0297],[201.9,.0304],[204,.0294],[205,.029],[206.9,.029],[208.1,.0283],[210,.0294],[211.9,.0297],[212.9,.0294],[214,.0283],[215.1,.0294]];

// thin runs first, the highlighted run (red) is drawn last on top
var runs = [
	{ values: blue,      color: 'rgb(73,140,194)' },
	{ values: green,     color: 'rgb(140,181,102)' },
	{ values: lightBlue, color: 'rgb(170,208,223)' },
	{ values: mint,      color: 'rgb(156,215,205)' },
	{ values: purple,    color: 'rgb(177,140,193)' },
	{ values: gray,      color: 'rgb(117,128,142)' },
	{ values: orange,    color: 'rgb(243,177,85)' },
	{ values: peach,     color: 'rgb(245,180,156)' },
	{ values: lightPink, color: 'rgb(251,154,156)' },
	{ values: pink,      color: 'rgb(220,87,148)' },
	{ values: teal,      color: 'rgb(78,177,154)' }
];

var width = 3446, height = 1646;
var margin = {top: 19, left: 358, bottom: 304, right: 20};
var plotW = width - margin.left - margin.right;
var plotH = height - margin.top - margin.bottom;

var svg = d3.select('#chart')
	.append('svg')
		.attr('width', width)
		.attr('height', height)
		.style('display', 'block');

svg.append('rect')
	.attr('width', width)
	.attr('height', height)
	.attr('fill', '#ffffff');

var g = svg.append('g')
	.attr('transform', 'translate(' + margin.left + ',' + margin.top + ')');

var x = d3.scaleLinear().domain([-2.07, 217.2]).range([0, plotW]);
var y = d3.scaleLinear().domain([0.01226, 0.3808]).range([plotH, 0]);

// seaborn darkgrid background
g.append('rect')
	.attr('width', plotW)
	.attr('height', plotH)
	.attr('fill', '#eaeaf2');

// white grid lines
g.append('g')
	.attr('class', 'grid')
	.attr('transform', 'translate(0,' + plotH + ')')
	.call(d3.axisBottom(x).tickValues(xTicks).tickSize(-plotH).tickFormat(''))
	.call(function(s){ s.select('.domain').remove(); });
g.append('g')
	.attr('class', 'grid')
	.call(d3.axisLeft(y).tickValues(yTicks).tickSize(-plotW).tickFormat(''))
	.call(function(s){ s.select('.domain').remove(); });
g.selectAll('.grid line')
	.attr('stroke', '#ffffff')
	.attr('stroke-width', 5);

var line = d3.line()
	.x(function(d){ return x(d[0]); })
	.y(function(d){ return y(d[1]); });

g.selectAll('path.run')
	.data(runs)
	.enter()
	.append('path')
		.attr('class', 'run')
		.attr('d', function(d){ return line(d.values); })
		.attr('fill', 'none')
		.attr('stroke', function(d){ return d.color; })
		.attr('stroke-opacity', 0.7)
		.attr('stroke-width', 8)
		.attr('stroke-linejoin', 'round')
		.attr('stroke-linecap', 'square');

g.append('path')
	.attr('d', line(red))
	.attr('fill', 'none')
	.attr('stroke', '#c8201f')
	.attr('stroke-width', 12.5)
	.attr('stroke-linejoin', 'round')
	.attr('stroke-linecap', 'square');

// tick labels
var xAxis = g.append('g')
	.attr('transform', 'translate(0,' + plotH + ')')
	.call(d3.axisBottom(x).tickValues(xTicks).tickSize(0).tickPadding(40).tickFormat(d3.format('d')));
var yAxis = g.append('g')
	.call(d3.axisLeft(y).tickValues(yTicks).tickSize(0).tickPadding(40).tickFormat(d3.format('.1f')));
[xAxis, yAxis].forEach(function(a){
	a.select('.domain').remove();
	a.selectAll('text')
		.attr('fill', '#000')
		.style('font-family', '"DejaVu Serif", serif')
		.style('font-size', '88px');
});

// axis titles
svg.append('text')
	.attr('x', margin.left + plotW / 2)
	.attr('y', 1602)
	.attr('text-anchor', 'middle')
	.style('font-size', '110px')
	.text('Training Steps');
svg.append('text')
	.attr('transform', 'translate(102,' + (margin.top + plotH / 2) + ') rotate(-90)')
	.attr('text-anchor', 'middle')
	.style('font-size', '110px')
	.text('Entropy');
</script>
</body>
</html>
